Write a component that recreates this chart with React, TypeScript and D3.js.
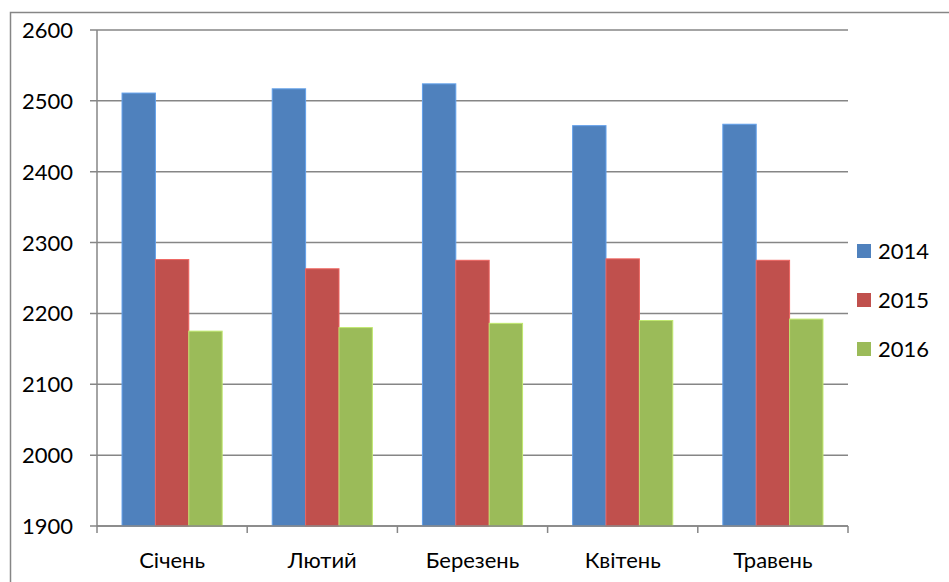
import React from 'react';
import * as d3 from 'd3';

const months = ['Січень', 'Лютий', 'Березень', 'Квітень', 'Травень'];
const years = ['2014', '2015', '2016'];
const values2014 = [2511, 2517, 2524, 2465, 2467];
const values2015 = [2276, 2263, 2275, 2277, 2275];
const values2016 = [2175, 2180, 2186, 2190, 2192];
const yTicks = [1900, 2000, 2100, 2200, 2300, 2400, 2500, 2600];
const colors = ['#4F81BD', '#C0504D', '#9BBB59'];

const App: React.FC = () => {
  const svgRef = React.useRef<SVGSVGElement>(null);

  React.useEffect(() => {
    if (!svgRef.current) return;
    const svg = d3.select(svgRef.current);
    svg.selectAll('*').remove();

    const left = 97, right = 848, top = 30, bottom = 526;
    const font = 'Lato, "Open Sans", sans-serif';
    const series = [values2014, values2015, values2016];

    // chart frame (runs past the picture's right and bottom edges)
    svg.append('rect')
      .attr('x', 10.5).attr('y', 12.5)
      .attr('width', 1000).attr('height', 700)
      .attr('fill', 'white')
      .attr('stroke', '#868686').attr('stroke-width', 1.5);

    const x = d3.scaleBand().domain(months).range([left, right]);
    const y = d3.scaleLinear().domain([1900, 2600]).range([bottom, top]);
    const inner = x.bandwidth() / 4.5;
    const x1 = d3.scaleBand().domain(years)
      .range([inner * 0.75, inner * 3.75]);

    const g = svg.append('g');

    // gridlines + left ticks
    g.selectAll('line.grid').data(yTicks).enter().append('line')
      .attr('x1', left - 7).attr('x2', right)
      .attr('y1', d => y(d)).attr('y2', d => y(d))
      .attr('stroke', '#868686').attr('stroke-width', 1.5);

    // bars
    series.forEach((vals, si) => {
      g.selectAll(`rect.s${si}`).data(vals).enter().append('rect')
        .attr('x', (_, i) => x(months[i])! + x1(years[si])!)
        .attr('width', x1.bandwidth())
        .attr('y', d => y(d))
        .attr('height', d => bottom - y(d))
        .attr('fill', colors[si])
        .attr('stroke', d3.color(colors[si])!.brighter(0.6).toString())
        .attr('stroke-width', 1);
    });

    // y axis line
    g.append('line')
      .attr('x1', left).attr('x2', left)
      .attr('y1', top).attr('y2', bottom)
      .attr('stroke', '#868686').attr('stroke-width', 1.5);

    // x axis line and category ticks
    g.append('line')
      .attr('x1', left).attr('x2', right)
      .attr('y1', bottom).attr('y2', bottom)
      .attr('stroke', '#868686').attr('stroke-width', 1.5);
    const bounds = months.map(m => x(m)!).concat([right]);
    g.selectAll('line.xt').data(bounds).enter().append('line')
      .attr('x1', d => d).attr('x2', d => d)
      .attr('y1', bottom).attr('y2', bottom + 7)
      .attr('stroke', '#868686').attr('stroke-width', 1.5);

    // y labels
    g.selectAll('text.yl').data(yTicks).enter().append('text')
      .attr('x', 73).attr('y', d => y(d) + 8)
      .attr('text-anchor', 'end')
      .style('font-family', font).style('font-size', '22px').style('fill', '#000')
      .text(d => d);

    // category labels
    g.selectAll('text.xl').data(months).enter().append('text')
      .attr('x', d => x(d)! + x.bandwidth() / 2).attr('y', 568)
      .attr('text-anchor', 'middle')
      .style('font-family', font).style('font-size', '22px').style('fill', '#000')
      .text(d => d);

    // legend
    const lg = svg.append('g');
    years.forEach((yr, i) => {
      const cy = 251 + i * 49;
      lg.append('rect')
        .attr('x', 857).attr('y', cy - 7)
        .attr('width', 14).attr('height', 14)
        .attr('fill', colors[i]);
      lg.append('text')
        .attr('x', 878).attr('y', cy + 8)
        .style('font-family', font).style('font-size', '22px').style('fill', '#000')
        .text(yr);
    });
  }, []);

  return (
    <svg ref={svgRef} width={949} height={582}
      style={{ display: 'block', position: 'absolute', left: 0, top: 0, background: 'white' }} />
  );
};

export default App;
